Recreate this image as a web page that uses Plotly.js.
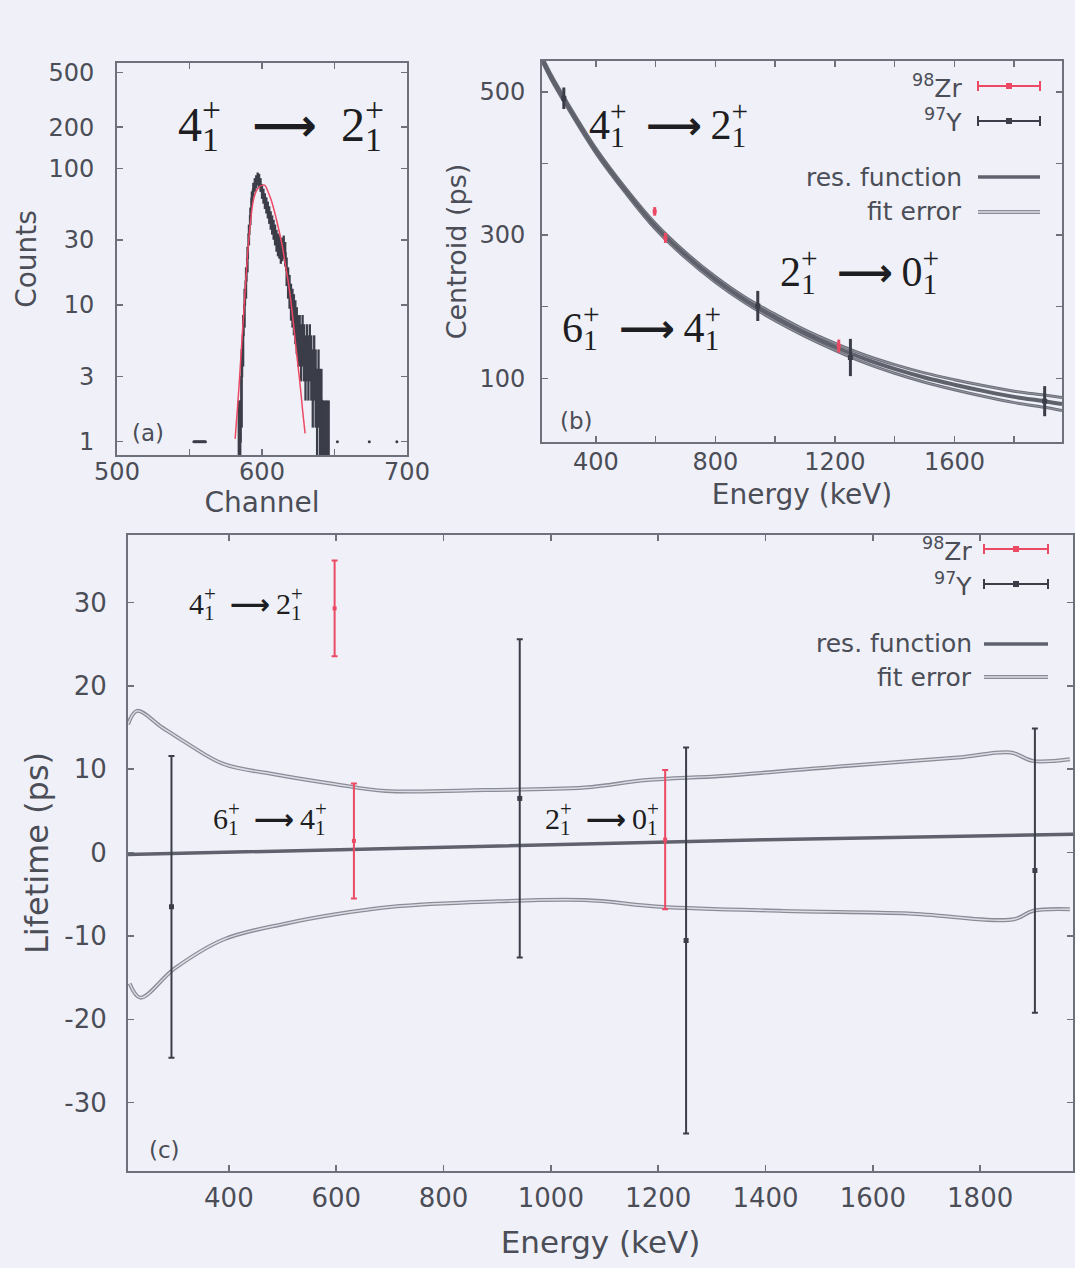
<!DOCTYPE html>
<html><head><meta charset="utf-8">
<script src="https://cdn.plot.ly/plotly-3.0.1.min.js"></script>
<style>html,body{margin:0;padding:0;background:#f0f1f8;}#chart{width:1075px;height:1268px;}</style>
</head><body><div id="chart"></div>
<script>
// ---------- Panel (a): spectrum ----------
const histChannel = [584,585,586,587,588,589,590,591,592,593,594,595,596,597,598,599,600,601,602,603,604,605,606,607,608,609,610,611,612,613,614,615,616,617,618,619,620,621,622,623,624,625,626,627,628,629,630,631,632,633,634,635,636,637,638,639,640,641,642,643,644,645,646];
const histCounts  = [1,1,3,6,10,15,22,33,45,60,70,76,80,84,82,76,68,63,58,54,50,46,42,39,36,33,30,28,27,25,26,27,24,18,15,13,11,10,9,8,7,6,6,5,6,5,4,5,4,5,4,3,4,3,2,3,2,2,1,1,1,1,1];
const sparseChannel = [553,554,555,556,557,558,559,560,561,null,652,null,674,null,693];
const sparseCounts  = [1,1,1,1,1,1,1,1,1,null,1,null,1,null,1];
const fitChannel = [581.5,584,586,588,590,592,594,596,598,600,602,604,606,608,610,612,614,616,618,620,622,624,626,628,629.7];
const fitCounts  = [1.05,2.4,5.2,11,23,40,58,68,73,75,75,68,60,51,42,34,27,20,15,10.5,6.8,4.3,2.8,1.7,1.15];
const countTicks = [1,3,10,30,100,200,500];

// ---------- Shared transitions ----------
const zrEnergy = [597,633,1213];          // 98Zr: 4+->2+, 6+->4+, 2+->0+
const yEnergy  = [293,942,1252,1902];     // 97Y

// ---------- Panel (b): centroid ----------
const resEnergyB = [220,250,300,400,500,600,700,800,900,1000,1100,1200,1300,1400,1500,1600,1700,1800,1900,1960];
const resCentroid = [546,521,485,418,362,312,272,238,209,185,163,144,127,113,101,91,82,74,68,64];
const fitUpperB = [549.5,524.5,488.5,421.5,365.5,316,276,242,213,189.5,167.5,149,132.5,119,107.5,98,89.5,82,76.5,73];
const fitLowerB = [542.5,517.5,481.5,414.5,358.5,308,268,234,205,180.5,158.5,139,121.5,107,94.5,84,74.5,66,59.5,55];
const zrCentroid = [333,296,145];
const zrCentroidErr = [6,7,9];
const yCentroid = [491,201,129,68];
const yCentroidErr = [15,21,26,21];

// ---------- Panel (c): lifetime ----------
const resEnergyC = [212,600,1000,1400,1973];
const resLifetime = [-0.24,0.35,0.95,1.55,2.2];
const fitUpperE = [212,229,276,322,391,484,599,692,878,1063,1179,1319,1550,1758,1857,1898,1967];
const fitUpperC = [15.4,17.0,15.0,13.1,10.6,9.4,8.2,7.4,7.5,7.8,8.7,9.2,10.4,11.4,12.0,11.0,11.2];
const fitLowerE = [215,235,299,391,507,599,704,878,1063,1203,1434,1666,1863,1898,1967];
const fitLowerC = [-15.7,-17.4,-13.9,-10.4,-8.5,-7.4,-6.5,-5.9,-5.7,-6.5,-7.0,-7.3,-8.0,-7.0,-6.8];
const zrLifetime = [29.3,1.4,1.55];
const zrLifetimeErr = [5.75,6.9,8.35];
const yLifetime = [-6.5,6.5,-10.55,-2.15];
const yLifetimeErr = [18.1,19.1,23.15,17.05];
const lifetimeTicks = [-30,-20,-10,0,10,20,30];
const lifetimeTickText = ['-30','-20','-10','0','10','20','30'];

// ---------- styling ----------
const W = 1075, H = 1268;
const BG = '#f0f1f8';
const RED = '#ec4a64';
const DARK = '#3b3d48';
const GRAY = '#5f616c';
const TXT = '#4b4d57';
const FAM = 'DejaVu Sans, Liberation Sans, Arial, sans-serif';
const SERIF = 'Liberation Serif, DejaVu Serif, Times New Roman, serif';
const px = v => v / W, py = v => 1 - v / H;

const histErr = histCounts.map(n => Math.sqrt(n));

const traces = [
  // (a)
  {x: histChannel, y: histCounts, xaxis:'x', yaxis:'y', mode:'lines', line:{shape:'hvh', color:DARK, width:1.6},
   error_y:{type:'data', array:histErr, color:DARK, thickness:2.3, width:0}, showlegend:false},
  {x: sparseChannel, y: sparseCounts, xaxis:'x', yaxis:'y', mode:'lines+markers', line:{shape:'hvh', color:DARK, width:2.5},
   marker:{size:3, color:DARK}, connectgaps:false, showlegend:false},
  {x: fitChannel, y: fitCounts, xaxis:'x', yaxis:'y', mode:'lines', line:{shape:'spline', color:RED, width:1.5}, showlegend:false},
  // (b)
  {x: resEnergyB, y: fitUpperB, xaxis:'x2', yaxis:'y2', mode:'lines', line:{shape:'spline', color:'#6c6e79', width:3}, showlegend:false},
  {x: resEnergyB, y: fitUpperB, xaxis:'x2', yaxis:'y2', mode:'lines', line:{shape:'spline', color:'#a3a5af', width:0.7}, showlegend:false},
  {x: resEnergyB, y: fitLowerB, xaxis:'x2', yaxis:'y2', mode:'lines', line:{shape:'spline', color:'#6c6e79', width:3}, showlegend:false},
  {x: resEnergyB, y: fitLowerB, xaxis:'x2', yaxis:'y2', mode:'lines', line:{shape:'spline', color:'#a3a5af', width:0.7}, showlegend:false},
  {x: resEnergyB, y: resCentroid, xaxis:'x2', yaxis:'y2', mode:'lines', line:{shape:'spline', color:GRAY, width:4}, showlegend:false},
  {x: zrEnergy, y: zrCentroid, xaxis:'x2', yaxis:'y2', mode:'markers', marker:{symbol:'square', size:4, color:RED},
   error_y:{type:'data', array:zrCentroidErr, color:RED, thickness:3, width:0}, showlegend:false},
  {x: yEnergy, y: yCentroid, xaxis:'x2', yaxis:'y2', mode:'markers', marker:{symbol:'square', size:5, color:DARK},
   error_y:{type:'data', array:yCentroidErr, color:DARK, thickness:3, width:0}, showlegend:false},
  // (c)
  {x: fitUpperE, y: fitUpperC, xaxis:'x3', yaxis:'y3', mode:'lines', line:{shape:'spline', color:'#8a8c97', width:4}, showlegend:false},
  {x: fitUpperE, y: fitUpperC, xaxis:'x3', yaxis:'y3', mode:'lines', line:{shape:'spline', color:'#dcdde6', width:1.4}, showlegend:false},
  {x: fitLowerE, y: fitLowerC, xaxis:'x3', yaxis:'y3', mode:'lines', line:{shape:'spline', color:'#8a8c97', width:4}, showlegend:false},
  {x: fitLowerE, y: fitLowerC, xaxis:'x3', yaxis:'y3', mode:'lines', line:{shape:'spline', color:'#dcdde6', width:1.4}, showlegend:false},
  {x: resEnergyC, y: resLifetime, xaxis:'x3', yaxis:'y3', mode:'lines', line:{color:GRAY, width:3.5}, showlegend:false},
  {x: zrEnergy, y: zrLifetime, xaxis:'x3', yaxis:'y3', mode:'markers', marker:{symbol:'square', size:4, color:RED},
   error_y:{type:'data', array:zrLifetimeErr, color:RED, thickness:2, width:3}, showlegend:false},
  {x: yEnergy, y: yLifetime, xaxis:'x3', yaxis:'y3', mode:'markers', marker:{symbol:'square', size:5, color:DARK},
   error_y:{type:'data', array:yLifetimeErr, color:DARK, thickness:2, width:3}, showlegend:false}
];

const axBase = {showline:true, linecolor:'#6e707b', linewidth:2, mirror:'ticks', ticks:'inside',
  tickcolor:'#6e707b', tickwidth:1.5, ticklen:6, showgrid:false, zeroline:false, fixedrange:true};
const minorIn = (d) => ({dtick:d, ticks:'inside', ticklen:6, tickwidth:1.5, tickcolor:'#6e707b', showgrid:false});
const tf = s => ({family:FAM, size:s, color:TXT});

const layout = {
  width:W, height:H, margin:{l:0,r:0,t:0,b:0}, autosize:false,
  paper_bgcolor:BG, plot_bgcolor:BG, showlegend:false,
  xaxis: Object.assign({}, axBase, {domain:[px(117),px(407)], anchor:'y', range:[500,700],
    tick0:0, dtick:100, minor:minorIn(50), tickfont:tf(24), ticklabelstandoff:-6,
    title:{text:'Channel', font:tf(28), standoff:0}}),
  yaxis: Object.assign({}, axBase, {domain:[py(455),py(63)], anchor:'x', type:'log', range:[-0.097,2.77],
    tickvals:countTicks, ticktext:countTicks.map(String), tickfont:tf(24), ticklabelstandoff:16,
    title:{text:'Counts', font:tf(28), standoff:4}}),
  xaxis2: Object.assign({}, axBase, {domain:[px(542),px(1062)], anchor:'y2', range:[220,1960],
    tick0:0, dtick:400, minor:minorIn(200), tickfont:tf(24), ticklabelstandoff:-3,
    title:{text:'Energy (keV)', font:tf(28), standoff:10}}),
  yaxis2: Object.assign({}, axBase, {domain:[py(442),py(61)], anchor:'x2', range:[11,543],
    tick0:100, dtick:200, minor:minorIn(100), tickfont:tf(24), ticklabelstandoff:10,
    title:{text:'Centroid (ps)', font:tf(27), standoff:5}}),
  xaxis3: Object.assign({}, axBase, {domain:[px(128),px(1073)], anchor:'y3', range:[212,1973],
    tick0:0, dtick:200, tickfont:tf(26), ticklabelstandoff:3,
    title:{text:'Energy (keV)', font:tf(31), standoff:19}}),
  yaxis3: Object.assign({}, axBase, {domain:[py(1171),py(535)], anchor:'x3', range:[-38.2,38.1],
    tickvals:lifetimeTicks, ticktext:lifetimeTickText, tickfont:tf(26), ticklabelstandoff:14,
    title:{text:'Lifetime (ps)', font:tf(32), standoff:6}}),
  annotations: [],
  shapes: []
};

// transition labels: stacked sub/sup, long bold arrow
const lvl = (j) => j + '<sub><span style="letter-spacing:-0.5em">1</span></sub><sup>+</sup>';
function trans(a, b, x, y, size, before, after) {
  const arrow = '<span style="font-family:\'DejaVu Sans\';font-weight:bold;font-size:' + Math.round(size*0.93) + 'px">' + before + '\u27F6</span>';
  layout.annotations.push({xref:'paper', yref:'paper', x:px(x), y:py(y), xanchor:'center', yanchor:'middle',
    showarrow:false, text: lvl(a) + arrow + after + lvl(b), font:{family:SERIF, size:size, color:'#1d1d22'}});
}
trans(4, 2, 281, 122, 48, '\u2002\u2009', '\u2002');
trans(4, 2, 668, 122, 42, '\u2002', '\u2009');
trans(2, 0, 859, 268, 42, '\u2002', '\u2009');
trans(6, 4, 641, 325, 42, '\u2002', '\u2009');
trans(4, 2, 246, 602, 30, '\u2002', '\u2009');
trans(6, 4, 270, 816, 30, '\u2002', '\u2009');
trans(2, 0, 602, 816, 30, '\u2002', '\u2009');

// panel labels
[['(a)',148,433],['(b)',576,421],['(c)',164,1150]].forEach(([t,x,y]) =>
  layout.annotations.push({xref:'paper', yref:'paper', x:px(x), y:py(y), xanchor:'center', yanchor:'middle',
    showarrow:false, text:t, font:tf(23)}));

// manual legends (key text to the left of the sample, gnuplot style)
function legend(textRight, x0, x1, rows) {
  const [yZr, yY, yRes, yFit] = rows;
  const add = (t, y) => layout.annotations.push({xref:'paper', yref:'paper', x:px(textRight), y:py(y),
    xanchor:'right', yanchor:'middle', showarrow:false, text:t, font:tf(25)});
  add('<sup>98</sup>Zr', yZr); add('<sup>97</sup>Y', yY); add('res. function', yRes); add('fit error', yFit);
  const L = (xa, ya, xb, yb, c, w) => layout.shapes.push({type:'line', xref:'paper', yref:'paper',
    x0:px(xa), y0:py(ya), x1:px(xb), y1:py(yb), line:{color:c, width:w}});
  const xm = (x0 + x1) / 2;
  [[yZr, RED], [yY, DARK]].forEach(([y, c]) => {
    L(x0, y, x1, y, c, 2); L(x0, y-5, x0, y+5, c, 2); L(x1, y-5, x1, y+5, c, 2);
    layout.shapes.push({type:'rect', xref:'paper', yref:'paper', x0:px(xm-3), x1:px(xm+3), y0:py(y-3), y1:py(y+3),
      fillcolor:c, line:{width:0}});
  });
  L(x0, yRes, x1, yRes, GRAY, 3.5);
  L(x0, yFit, x1, yFit, '#8a8c97', 4); L(x0, yFit, x1, yFit, '#dcdde6', 1.4);
}
legend(964, 978, 1040, [86, 121, 177, 212]);
legend(974, 984, 1048, [549, 584, 644, 677]);

Plotly.newPlot('chart', traces, layout, {staticPlot:true, displayModeBar:false});
</script></body></html>
